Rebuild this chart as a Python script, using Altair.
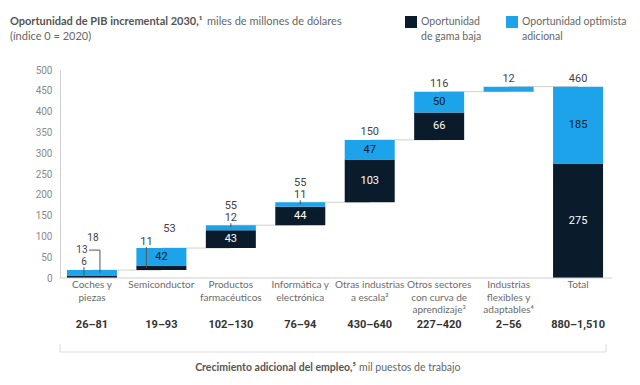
import altair as alt
import pandas as pd

cats = ["Coches y piezas", "Semiconductor", "Productos farmacéuticos",
        "Informática y electrónica", "Otras industrias a escala²",
        "Otros sectores con curva de aprendizaje³",
        "Industrias flexibles y adaptables⁴", "Total"]
cat_lines = [["Coches y", "piezas"], ["Semiconductor"], ["Productos", "farmacéuticos"],
             ["Informática y", "electrónica"], ["Otras industrias", "a escala²"],
             ["Otros sectores", "con curva de", "aprendizaje³"],
             ["Industrias", "flexibles y", "adaptables⁴"], ["Total"]]
low = [6, 11, 43, 44, 103, 66, 0, 275]
opt = [13, 42, 12, 11, 47, 50, 12, 185]
totals_lbl = ["18", "53", "55", "55", "150", "116", "12", "460"]
jobs = ["26–81", "19–93", "102–130", "76–94", "430–640", "227–420", "2–56", "880–1,510"]
low_inside = [False, False, True, True, True, True, False, True]
opt_inside = [False, True, False, False, True, True, False, True]
low_above = [True, True, False, False, False, False, False, False]
opt_above = [True, False, True, True, False, False, False, False]
y_ticks = [0, 50, 100, 150, 200, 250, 300, 350, 400, 450, 500]

DARK = "#0A1C2C"
CYAN = "#1CA3EA"
FONT = "Lato"
NUMFONT = "Roboto"

base = []
run = 0
for i in range(len(cats) - 1):
    base.append(run)
    run += low[i] + opt[i]
base.append(0)

rows = []
for i, c in enumerate(cats):
    rows.append(dict(cat=c, series="low", y=base[i], y2=base[i] + low[i], val=low[i],
                     inside=low_inside[i]))
    rows.append(dict(cat=c, series="opt", y=base[i] + low[i], y2=base[i] + low[i] + opt[i],
                     val=opt[i], inside=opt_inside[i]))
seg = pd.DataFrame(rows)
seg["mid"] = (seg["y"] + seg["y2"]) / 2

info = pd.DataFrame(dict(cat=cats, low=low, opt=opt, base=base, tot=totals_lbl, jobs=jobs,
                         lab=cat_lines, lowab=low_above, optab=opt_above))
info["top"] = info["base"] + info["low"] + info["opt"]
info["lowmid"] = info["base"] + info["low"] / 2
info["optmid"] = info["base"] + info["low"] + info["opt"] / 2
info["nab"] = info["lowab"].astype(int) + info["optab"].astype(int)

conn = pd.DataFrame(dict(frm=cats[:-1], to=cats[1:],
                         level=[base[i] + low[i] + opt[i] for i in range(len(cats) - 1)]))

xs = alt.Scale(domain=cats, paddingInner=0.28, paddingOuter=0.1)
X = alt.X("cat:N", scale=xs, axis=None, sort=cats)
ys = alt.Scale(domain=[0, 500], nice=False)
yaxis = alt.Axis(values=y_ticks, grid=False, ticks=False, domainColor="#cfcfcf",
                 labelColor="#8a8a8a", labelFontSize=10, labelPadding=8, labelFont=NUMFONT,
                 labelOverlap=False, tickCount=11, title=None)

def Y(field):
    return alt.Y(field, scale=ys, axis=yaxis, title=None)

connectors = alt.Chart(conn).mark_rule(color="#d0d0d0", strokeWidth=1).encode(
    x=alt.X("frm:N", scale=xs, axis=None, sort=cats), x2="to:N",
    y=Y("level:Q"))

bars = alt.Chart(seg).mark_bar().encode(
    x=X, y=Y("y:Q"), y2="y2:Q",
    color=alt.Color("series:N", scale=alt.Scale(domain=["low", "opt"], range=[DARK, CYAN]),
                    legend=None))

baseline = alt.Chart(pd.DataFrame({"a": [0]})).mark_rule(color="#cfcfcf").encode(
    y=alt.Y(datum=0, scale=ys, axis=yaxis), x=alt.value(0), x2=alt.value(552))

inside_low = alt.Chart(seg).mark_text(font=NUMFONT, fontSize=11, color="white").encode(
    x=X, y=Y("mid:Q"), text="val:Q"
).transform_filter("datum.inside && datum.series == 'low'")
inside_opt = alt.Chart(seg).mark_text(font=NUMFONT, fontSize=11, color=DARK).encode(
    x=X, y=Y("mid:Q"), text="val:Q"
).transform_filter("datum.inside && datum.series == 'opt'")

lblc = "#444"
def top_text(filt, dx, dy, field, size=11):
    return alt.Chart(info).mark_text(font=NUMFONT, fontSize=size, color=lblc, dx=dx, dy=dy).encode(
        x=X, y=Y("top:Q"), text=f"{field}:N").transform_filter(filt)

tot0 = top_text("datum.nab == 0", 0, -8, "tot")
tot1a = top_text("datum.nab == 1 && datum.lowab", 8, -19, "tot")
tot1b = top_text("datum.nab == 1 && !datum.lowab", 0, -19, "tot")
tot2 = top_text("datum.nab == 2", 1, -32, "tot", 10)
opt0 = top_text("datum.optab && !datum.lowab", 0, -7, "opt")
opt1 = top_text("datum.optab && datum.lowab", -10, -20, "opt", 10)
low_semi = top_text("datum.lowab && !datum.optab", -15, -6, "low")
low_coch = top_text("datum.lowab && datum.optab", -8, -8, "low", 10)

lc = "#555"
tick_opt = alt.Chart(info).mark_rule(color=lc, yOffset=-2, y2Offset=2).encode(
    x=X, y=Y("top:Q"), y2="top:Q").transform_filter("datum.optab && !datum.lowab")
lead_semi = alt.Chart(info).mark_rule(color=lc, xOffset=-15, yOffset=-1).encode(
    x=X, y=Y("top:Q"), y2="lowmid:Q").transform_filter("datum.lowab && !datum.optab")
lead_c6 = alt.Chart(info).mark_rule(color=lc, xOffset=-8, yOffset=-3).encode(
    x=X, y=Y("top:Q"), y2="lowmid:Q").transform_filter("datum.lowab && datum.optab")
lead_c13h = alt.Chart(info).mark_rule(color=lc, xOffset=-3, x2Offset=8, yOffset=-20, y2Offset=-20).encode(
    x=X, x2="cat:N", y=Y("top:Q"), y2="top:Q").transform_filter("datum.lowab && datum.optab")
lead_c13v = alt.Chart(info).mark_rule(color=lc, xOffset=8, yOffset=-20).encode(
    x=X, y=Y("top:Q"), y2="optmid:Q").transform_filter("datum.lowab && datum.optab")

catlab = alt.Chart(info).mark_text(font=FONT, fontSize=10, color="#6b6b6b", baseline="top",
                                   lineHeight=12.5).encode(
    x=X, y=alt.value(210), text="lab")
joblab = alt.Chart(info).mark_text(font=NUMFONT, fontSize=11, fontWeight="bold", color="#333").encode(
    x=X, y=alt.value(255), text="jobs:N")

one = pd.DataFrame({"a": [0]})
def const_text(txt, x, y, size=10.5, **kw):
    return alt.Chart(one).mark_text(align="left", baseline="middle", font=FONT, fontSize=size,
                                    **kw).encode(x=alt.value(x), y=alt.value(y), text=alt.value(txt))

title1 = const_text("Oportunidad de PIB incremental 2030,¹", -50, -48, 11, fontWeight="bold", color="#555")
title2 = const_text("miles de millones de dólares", 147, -48, 11, color="#666")
title3 = const_text("(índice 0 = 2020)", -50, -33, 11, color="#666")

sq_dark = alt.Chart(one).mark_rect(color=DARK).encode(
    x=alt.value(345), x2=alt.value(357), y=alt.value(-54), y2=alt.value(-42))
sq_cyan = alt.Chart(one).mark_rect(color=CYAN).encode(
    x=alt.value(446), x2=alt.value(458), y=alt.value(-54), y2=alt.value(-42))
leg1a = const_text("Oportunidad", 361, -48, color="#666")
leg1b = const_text("de gama baja", 361, -33, color="#666")
leg2a = const_text("Oportunidad optimista", 462, -48, color="#666")
leg2b = const_text("adicional", 462, -33, color="#666")

br_h = alt.Chart(one).mark_rule(color="#dddddd").encode(
    x=alt.value(0), x2=alt.value(546), y=alt.value(282))
br_l = alt.Chart(one).mark_rule(color="#dddddd").encode(
    x=alt.value(0), y=alt.value(274), y2=alt.value(282))
br_r = alt.Chart(one).mark_rule(color="#dddddd").encode(
    x=alt.value(546), y=alt.value(274), y2=alt.value(282))
cap1 = alt.Chart(one).mark_text(align="right", font=FONT, fontSize=10.5, fontWeight="bold",
                                color="#555").encode(
    x=alt.value(296), y=alt.value(298), text=alt.value("Crecimiento adicional del empleo,⁵"))
cap2 = const_text("mil puestos de trabajo", 299, 298, color="#666")

chart = alt.layer(
    connectors, bars, baseline, inside_low, inside_opt,
    tot0, tot1a, tot1b, tot2, opt0, opt1, low_semi, low_coch,
    tick_opt, lead_semi, lead_c6, lead_c13h, lead_c13v,
    catlab, joblab, title1, title2, title3, sq_dark, sq_cyan, leg1a, leg1b, leg2a, leg2b,
    br_h, br_l, br_r, cap1, cap2
).properties(
    width=550, height=208,
    autosize=alt.AutoSizeParams(type="none"),
    padding={"left": 52, "top": 62, "right": 22, "bottom": 99},
).configure_view(stroke=None)

chart.save("out.html", embed_options={"renderer": "svg", "actions": False})
